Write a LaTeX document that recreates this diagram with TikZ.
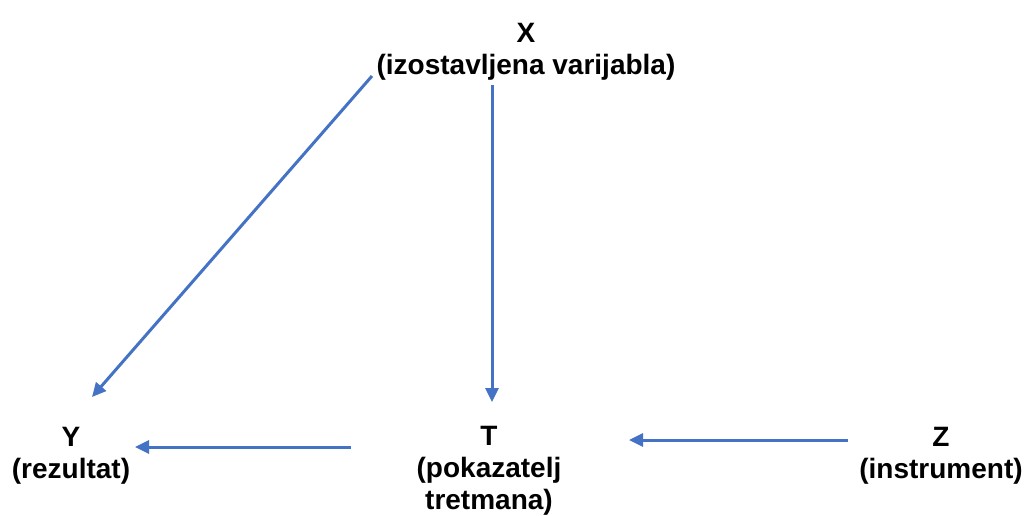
\documentclass[tikz,border=0pt]{standalone}
\usepackage{fontspec}
\setmainfont{Liberation Sans}
\usetikzlibrary{arrows.meta}
\definecolor{arrowblue}{RGB}{68,114,196}
\begin{document}
\begin{tikzpicture}[x=1pt,y=-1pt,
  lbl/.style={font=\fontsize{28}{32}\selectfont\bfseries, align=center, inner sep=0pt},
  conn/.style={draw=arrowblue, line width=3pt, -{Triangle[length=14pt,width=13pt]}}]
\useasboundingbox (0,0) rectangle (1026,515);
\node[lbl] (X) at (526,52) {X\\(izostavljena varijabla)};
\node[lbl, anchor=north] (Y) at (71,427) {Y\\(rezultat)};
\node[lbl, anchor=north] (T) at (489,426) {T\\(pokazatelj\\tretmana)};
\node[lbl, anchor=north] (Z) at (941,427) {Z\\(instrument)};
\coordinate (xa) at (372,76);
\coordinate (ya) at (92,397);
\coordinate (xb) at (492,85);
\coordinate (tb) at (492,402);
\coordinate (tc) at (351,447);
\coordinate (yc) at (135,447);
\coordinate (zd) at (848,440);
\coordinate (td) at (629,440);
\draw[conn] (xa) -- (ya);
\draw[conn] (xb) -- (tb);
\draw[conn] (tc) -- (yc);
\draw[conn] (zd) -- (td);
\end{tikzpicture}
\end{document}
